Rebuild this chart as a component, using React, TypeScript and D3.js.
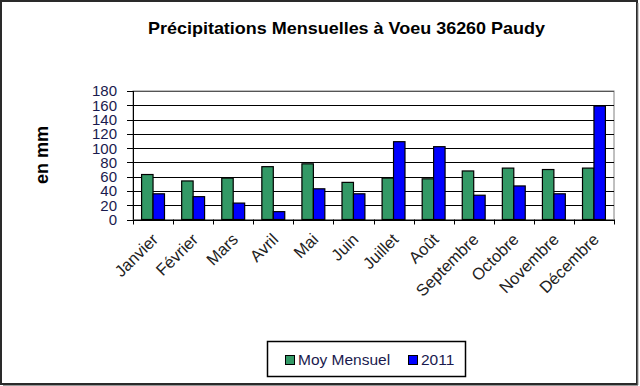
import React from "react";
import * as d3 from "d3";

const months = ["Janvier", "Février", "Mars", "Avril", "Mai", "Juin", "Juillet", "Août", "Septembre", "Octobre", "Novembre", "Décembre"];
const seriesNames = ["Moy Mensuel", "2011"];
const moyMensuel = [63, 54, 58, 74, 78, 52, 58, 57, 68, 72, 70, 72];
const values2011 = [36, 32, 23, 11, 43, 36, 109, 102, 34, 47, 36, 159];
const yTicks = [0, 20, 40, 60, 80, 100, 120, 140, 160, 180];
const seriesColors = ["#339966", "#0000FF"];

export default function App() {
  const W = 640, H = 386;
  const left = 133, right = 614, top = 91, bottom = 219.5;
  const x0 = d3.scaleBand<string>().domain(months).range([left, right]).padding(0);
  const bw = x0.bandwidth();
  const gap = bw * 1.5 / 3.5;
  const x1 = d3.scaleBand<string>().domain(seriesNames).range([gap / 2, bw - gap / 2]).padding(0);
  const y = d3.scaleLinear().domain([0, 180]).range([bottom, top]);
  const data = [moyMensuel, values2011];
  const font = "Arial, 'Liberation Sans', sans-serif";

  return (
    <svg width={W} height={H} style={{ position: "fixed", left: 0, top: 0, background: "#fff" }} fontFamily={font}>
      <rect x={0} y={0} width={W} height={H} fill="#fff" />
      <rect x={1} y={1} width={636} height={383} fill="none" stroke="#2a2a2a" strokeWidth={2} />
      <line x1={638} y1={3} x2={638} y2={385} stroke="#999" strokeWidth={1} />
      <line x1={3} y1={385.5} x2={638} y2={385.5} stroke="#999" strokeWidth={1} />

      <text x={346.5} y={34} textAnchor="middle" fontSize={17} fontWeight="bold" fill="#000" textLength={397} lengthAdjust="spacingAndGlyphs">
        Précipitations Mensuelles à Voeu 36260 Paudy
      </text>

      <text transform={`translate(47.5,155) rotate(-90)`} textAnchor="middle" fontSize={18} fontWeight="bold" fill="#000">
        en mm
      </text>

      {/* plot border */}
      <rect x={left} y={top} width={right - left} height={bottom - top} fill="none" stroke="#808080" strokeWidth={1} />
      {/* gridlines */}
      {yTicks.filter(t => t > 0 && t < 180).map(t => (
        <line key={t} x1={left} x2={right} y1={Math.round(y(t)) + 0.5} y2={Math.round(y(t)) + 0.5} stroke="#000" strokeWidth={1} />
      ))}
      <line x1={left} x2={right} y1={Math.round(y(180)) + 0.5} y2={Math.round(y(180)) + 0.5} stroke="#555" strokeWidth={1} />

      {/* bars */}
      {months.map((m, i) => (
        <g key={m} transform={`translate(${x0(m)},0)`}>
          {seriesNames.map((s, j) => (
            <rect key={s} x={x1(s)} y={y(data[j][i])} width={x1.bandwidth()} height={bottom - y(data[j][i])}
              fill={seriesColors[j]} stroke="#000" strokeWidth={1.2} />
          ))}
        </g>
      ))}

      {/* y axis */}
      <line x1={left + 0.5} x2={left + 0.5} y1={top} y2={bottom} stroke="#000" strokeWidth={1} />
      {yTicks.map(t => (
        <g key={t}>
          <line x1={left - 6} x2={left} y1={Math.round(y(t)) + 0.5} y2={Math.round(y(t)) + 0.5} stroke="#000" strokeWidth={1} />
          <text x={117} y={y(t)} dy="0.36em" textAnchor="end" fontSize={15} fill="#1a1a4e">{t}</text>
        </g>
      ))}

      {/* x axis */}
      <line x1={left} x2={right} y1={Math.round(bottom) + 0.5} y2={Math.round(bottom) + 0.5} stroke="#000" strokeWidth={1} />
      {months.concat(["__end"]).map((m, i) => {
        const xx = Math.round(left + i * bw) + 0.5;
        return <line key={m} x1={xx} x2={xx} y1={bottom} y2={bottom + 5} stroke="#000" strokeWidth={1} />;
      })}
      {months.map(m => {
        const cx = (x0(m) as number) + bw / 2;
        return (
          <text key={m} transform={`translate(${cx + 6},${bottom + 21}) rotate(-45)`} textAnchor="end" fontSize={16.5} fill="#222">
            {m}
          </text>
        );
      })}

      {/* legend */}
      <rect x={267.5} y={341.5} width={198} height={35} fill="#fff" stroke="#000" strokeWidth={1.5} />
      {seriesNames.map((s, j) => {
        const lx = j === 0 ? 285 : 408;
        return (
          <g key={s}>
            <rect x={lx + 0.5} y={355.5} width={9} height={9} fill={seriesColors[j]} stroke="#000" strokeWidth={1} />
            <text x={lx + 13} y={364.5} fontSize={15.5} fill="#1a1a4e">{s}</text>
          </g>
        );
      })}
    </svg>
  );
}
